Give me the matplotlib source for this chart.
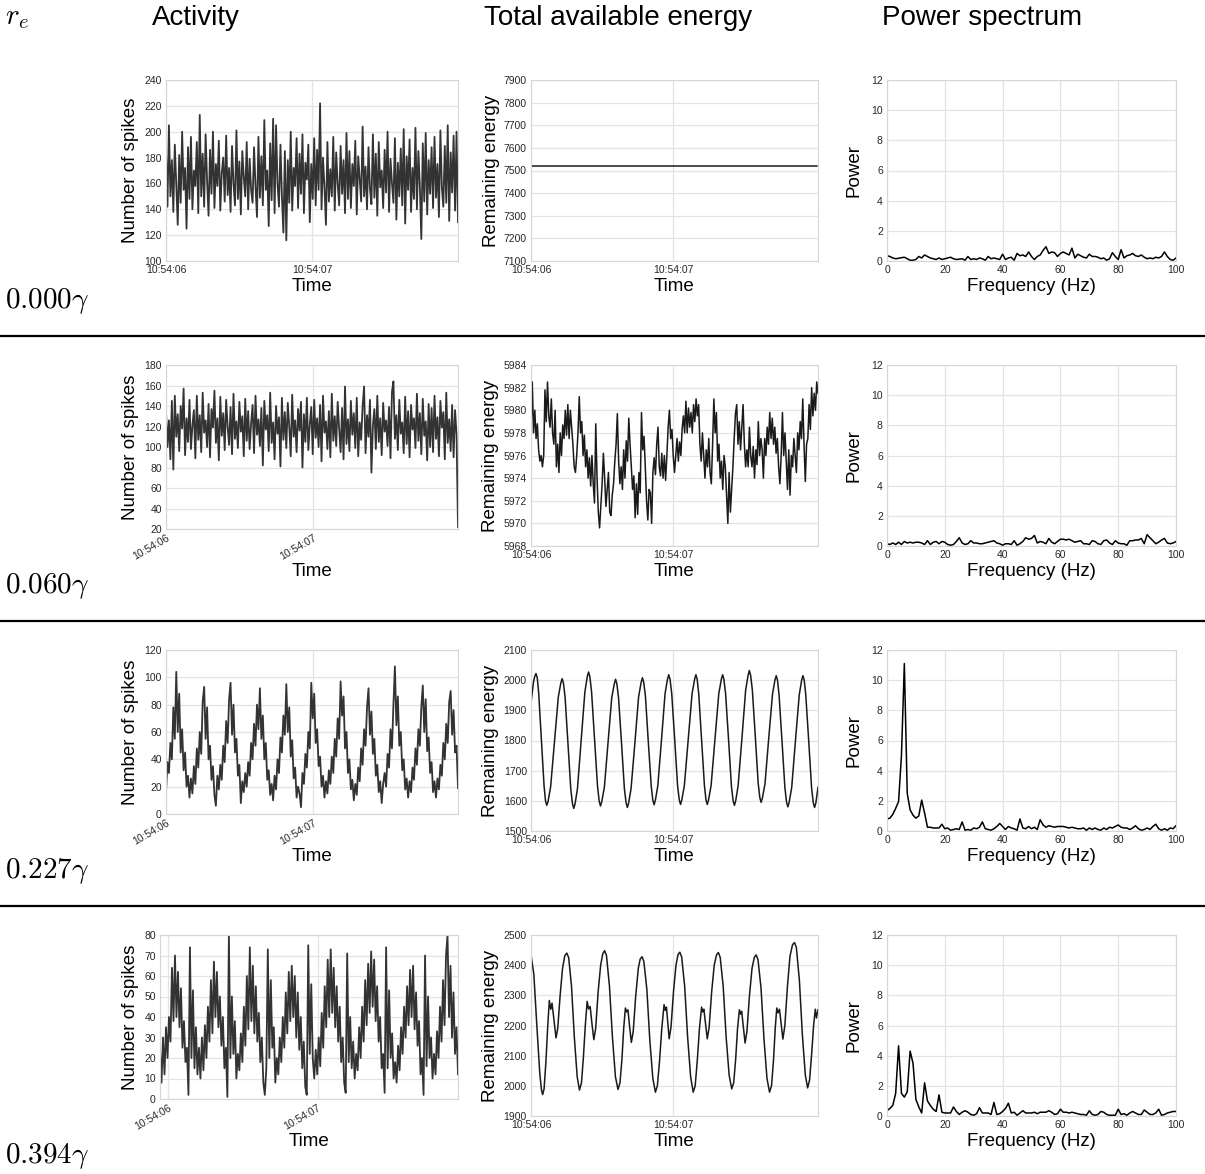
import numpy as np
import matplotlib
matplotlib.use("Agg")
import matplotlib.pyplot as plt
from matplotlib.lines import Line2D

plt.rcParams['font.family'] = ['Liberation Sans', 'DejaVu Sans']
plt.rcParams['mathtext.fontset'] = 'cm'

W, H = 1205, 1174

row_labels = [r'$0.000\gamma$', r'$0.060\gamma$', r'$0.227\gamma$', r'$0.394\gamma$']
col_titles = ['Activity', 'Total available energy', 'Power spectrum']
time_ticks = [0.0, 1.0]
time_tick_labels = ['10:54:06', '10:54:07']

# ---- activity (number of spikes), sampled every ~10 ms
activity_0 = [185, 142, 205, 150, 178, 138, 190, 160, 128, 182, 145, 200, 155, 172, 125, 188, 148, 196, 140, 170,
              158, 192, 137, 213, 150, 183, 142, 198, 162, 135, 186, 152, 200, 141, 175, 158, 193, 139, 168, 180,
              146, 197, 151, 172, 138, 189, 160, 143, 201, 148, 177, 136, 185, 165, 150, 192, 140, 179, 155, 145,
              188, 158, 134, 196, 149, 181, 143, 209, 155, 170, 127, 191, 147, 210, 137, 205, 160, 142, 190, 150,
              122, 185, 116, 178, 145, 200, 139, 172, 158, 195, 141, 183, 152, 198, 137, 176, 163, 190, 130, 175,
              148, 195, 143, 186, 155, 222, 140, 180, 157, 128, 192, 146, 171, 150, 196, 139, 184, 160, 143, 189,
              152, 178, 137, 199, 148, 185, 141, 175, 158, 193, 136, 181, 163, 146, 204, 150, 173, 140, 188, 156,
              144, 198, 149, 183, 135, 192, 157, 170, 141, 186, 153, 200, 138, 179, 160, 145, 195, 132, 176, 150,
              187, 143, 202, 129, 181, 155, 194, 138, 172, 148, 203, 140, 185, 158, 117, 191, 146, 199, 136, 178,
              152, 188, 141, 196, 149, 175, 134, 201, 157, 142, 189, 145, 205, 131, 184, 153, 197, 139, 200, 130]
activity_1 = [135, 100, 126, 88, 145, 78, 150, 110, 132, 96, 140, 118, 157, 92, 128, 105, 146, 98, 121, 136,
              89, 150, 107, 131, 95, 153, 114, 126, 100, 142, 90, 137, 119, 155, 104, 128, 87, 149, 111, 133,
              97, 146, 120, 102, 139, 93, 152, 108, 125, 99, 144, 115, 130, 91, 147, 106, 135, 98, 123, 141,
              94, 150, 112, 127, 101, 138, 82, 145, 117, 131, 96, 153, 104, 124, 88, 140, 113, 129, 81, 148,
              107, 134, 99, 143, 120, 91, 151, 110, 126, 95, 137, 116, 144, 80, 132, 105, 148, 97, 122, 139,
              93, 146, 109, 128, 100, 141, 86, 150, 114, 125, 98, 135, 90, 152, 106, 130, 101, 144, 118, 95,
              138, 88, 159, 103, 127, 96, 145, 112, 133, 99, 148, 91, 124, 107, 140, 159, 94, 131, 110, 146,
              75, 121, 137, 98, 150, 105, 128, 92, 143, 115, 126, 101, 139, 89, 154, 164, 108, 131, 97, 146,
              113, 124, 94, 149, 103, 135, 90, 141, 117, 128, 99, 152, 106, 133, 93, 147, 111, 125, 87, 142,
              100, 138, 95, 150, 108, 129, 91, 145, 119, 134, 88, 153, 104, 127, 96, 141, 90, 136, 112, 22]
activity_2 = [16, 38, 30, 52, 40, 78, 55, 104, 60, 88, 45, 62, 32, 45, 20, 28, 12,
              26, 15, 35, 22, 48, 34, 60, 44, 82, 93, 55, 78, 40, 50, 25, 35, 14, 6,
              28, 18, 36, 25, 50, 38, 68, 52, 84, 96, 58, 80, 45, 55, 28, 36, 8, 24,
              16, 30, 20, 38, 28, 52, 40, 66, 50, 80, 62, 92, 55, 72, 40, 52, 25, 32, 14, 22,
              10, 28, 18, 40, 30, 56, 45, 72, 58, 95, 60, 78, 42, 54, 26, 34, 12, 20,
              15, 5, 30, 22, 44, 34, 60, 48, 96, 70, 88, 52, 62, 35, 42, 20, 28, 12,
              24, 15, 32, 22, 42, 30, 55, 42, 70, 55, 97, 72, 86, 48, 60, 30, 40, 18, 25, 10,
              22, 14, 34, 24, 48, 36, 62, 50, 78, 92, 58, 75, 44, 55, 28, 36, 16, 24, 8,
              22, 30, 20, 44, 34, 62, 48, 80, 108, 65, 86, 50, 60, 32, 40, 18, 26, 12,
              24, 16, 34, 25, 48, 36, 62, 50, 78, 94, 60, 84, 46, 56, 30, 38, 16, 24, 12,
              26, 18, 36, 28, 52, 40, 66, 52, 82, 90, 58, 76, 45, 50, 19]
activity_3 = [24, 8, 30, 12, 35, 20, 40, 28, 64, 38, 70, 40, 62, 35, 54, 25, 38, 18, 25, 2,
              74, 20, 53, 15, 35, 12, 25, 10, 30, 14, 36, 20, 45, 28, 58, 32, 67, 40, 62, 35,
              50, 26, 40, 15, 25, 1, 80, 20, 50, 22, 38, 10, 22, 14, 32, 18, 45, 26, 60, 34,
              74, 38, 65, 32, 55, 28, 42, 18, 30, 8, 2, 15, 73, 20, 58, 25, 35, 8, 20, 12,
              30, 18, 40, 25, 52, 32, 62, 38, 65, 40, 60, 30, 52, 24, 40, 15, 28, 6, 2, 75,
              22, 56, 20, 10, 24, 12, 30, 16, 42, 25, 55, 35, 68, 40, 73, 42, 64, 35, 55, 28,
              45, 18, 30, 8, 3, 71, 18, 40, 15, 28, 10, 22, 14, 35, 20, 45, 28, 58, 36, 66,
              42, 72, 45, 68, 38, 55, 28, 40, 15, 22, 3, 74, 15, 53, 20, 32, 10, 18, 8, 26,
              14, 35, 22, 45, 30, 55, 36, 63, 40, 65, 34, 52, 26, 38, 12, 20, 2, 70, 16, 50,
              20, 30, 10, 22, 12, 33, 20, 45, 28, 58, 36, 70, 80, 40, 65, 30, 52, 22, 35, 12]
activity_series = [activity_0, activity_1, activity_2, activity_3]
activity_spans = [(0.0, 2.0), (0.0, 1.99), (0.0, 1.99), (-0.056, 1.94)]
activity_ylims = [(100, 240, 20), (20, 180, 20), (0, 120, 20), (0, 80, 10)]

# ---- remaining energy
energy_0 = [7520, 7520, 7520]
energy_1 = [5978.3, 5982.5, 5978, 5980, 5977.5, 5978.8, 5976.5, 5975.5, 5976, 5975, 5976, 5981.8, 5979, 5982.5,
            5979.5, 5978.5, 5981, 5978, 5977, 5980, 5975, 5977, 5974.5, 5978, 5976, 5978.7, 5977.5, 5980,
            5977.8, 5980.5, 5977.5, 5980, 5978.5, 5977, 5975, 5974.5, 5976, 5978, 5981.2, 5978, 5979, 5976,
            5977.8, 5975, 5976.5, 5974, 5975.8, 5973.3, 5976, 5973.5, 5971.8, 5978.8, 5974, 5971, 5969.6,
            5971.5, 5973.5, 5976.2, 5974, 5971.5, 5973, 5974.5, 5971, 5970.7, 5972.5, 5973.5, 5975.5, 5977,
            5979.7, 5975.5, 5973.5, 5975, 5973, 5976.5, 5974, 5977.3, 5975.5, 5979.3, 5977, 5975, 5973,
            5974.2, 5970.5, 5973.5, 5970.8, 5974.5, 5972.7, 5979.8, 5976.5, 5977.7, 5975, 5972, 5970.3, 5973,
            5972.7, 5970, 5974.5, 5975.8, 5974.3, 5977, 5978.5, 5975, 5974.2, 5976.2, 5974, 5976, 5973.8,
            5976, 5978.5, 5980, 5977.5, 5978.3, 5976, 5974.5, 5976, 5977.5, 5975.5, 5977.2, 5976, 5978.3,
            5979.5, 5978, 5980.8, 5978, 5980.2, 5978.5, 5979.8, 5978, 5980.5, 5979, 5981, 5979.5, 5980.5,
            5977, 5975.5, 5978, 5976, 5974, 5976.5, 5975, 5977.5, 5974.5, 5973.5, 5977, 5981, 5978, 5979.8,
            5975.5, 5977, 5974, 5975.5, 5973, 5976, 5975, 5972.5, 5970, 5974.5, 5971, 5973, 5975, 5977.5,
            5979.7, 5980.5, 5977, 5979, 5976.5, 5978.5, 5980.5, 5977, 5975, 5976.5, 5975, 5978.5, 5976,
            5975, 5976.8, 5974, 5976.5, 5975.2, 5979, 5976, 5977.5, 5976.5, 5974, 5977.5, 5976, 5978.5,
            5977, 5979.8, 5977.5, 5979.3, 5977, 5978.5, 5976.2, 5977.5, 5975, 5973.5, 5976, 5979.8, 5976,
            5978, 5975.5, 5973, 5976.5, 5972.5, 5976, 5975, 5977.5, 5976, 5974.5, 5978, 5976.5, 5979,
            5977.5, 5981, 5977, 5973.7, 5977, 5977.5, 5980.5, 5978.3, 5982, 5979.5, 5981.5, 5980, 5982.5,
            5981.5]
energy_2_t = [0.000, 0.018, 0.026, 0.035, 0.044, 0.054, 0.073, 0.092, 0.102, 0.111, 0.120, 0.138, 0.165, 0.192,
              0.210, 0.219, 0.228, 0.240, 0.260, 0.280, 0.292, 0.301, 0.310, 0.327, 0.353, 0.379, 0.396, 0.405,
              0.414, 0.426, 0.447, 0.468, 0.480, 0.489, 0.498, 0.516, 0.542, 0.568, 0.586, 0.595, 0.604, 0.616,
              0.637, 0.657, 0.669, 0.678, 0.687, 0.704, 0.731, 0.757, 0.775, 0.784, 0.793, 0.805, 0.825, 0.846,
              0.857, 0.866, 0.875, 0.892, 0.918, 0.943, 0.960, 0.969, 0.978, 0.990, 1.011, 1.031, 1.043, 1.052,
              1.061, 1.079, 1.106, 1.133, 1.151, 1.160, 1.169, 1.180, 1.200, 1.220, 1.231, 1.240, 1.249, 1.267,
              1.294, 1.321, 1.339, 1.348, 1.357, 1.369, 1.390, 1.410, 1.422, 1.431, 1.440, 1.457, 1.484, 1.510,
              1.527, 1.536, 1.545, 1.557, 1.578, 1.598, 1.610, 1.619, 1.628, 1.646, 1.672, 1.699, 1.716, 1.725,
              1.734, 1.745, 1.766, 1.786, 1.798, 1.807, 1.816, 1.834, 1.860, 1.887, 1.904, 1.913, 1.922, 1.933,
              1.954, 1.974, 1.986, 1.995, 2.004, 2.019]
energy_2_v = [1925, 1995, 2012, 2022, 2008, 1958, 1803, 1649, 1600, 1585, 1598, 1646, 1795, 1944,
              1991, 2005, 1991, 1942, 1790, 1638, 1590, 1575, 1590, 1641, 1801, 1961, 2012, 2027,
              2012, 1962, 1805, 1648, 1598, 1583, 1598, 1644, 1793, 1942, 1988, 2003, 1988, 1941,
              1790, 1640, 1593, 1578, 1593, 1641, 1793, 1945, 1993, 2008, 1993, 1947, 1797, 1648,
              1602, 1587, 1602, 1650, 1802, 1955, 2003, 2018, 2003, 1955, 1803, 1651, 1603, 1588,
              1603, 1651, 1803, 1955, 2003, 2018, 2003, 1955, 1803, 1651, 1603, 1588, 1603, 1651,
              1803, 1955, 2003, 2018, 2003, 1955, 1801, 1648, 1600, 1585, 1600, 1650, 1808, 1967,
              2016, 2032, 2016, 1968, 1813, 1659, 1610, 1595, 1610, 1656, 1805, 1954, 2000, 2015,
              2000, 1951, 1797, 1644, 1595, 1580, 1595, 1644, 1797, 1951, 2000, 2015, 2000, 1951,
              1796, 1642, 1593, 1578, 1593, 1645]
energy_3_t = [0.000, 0.020, 0.041, 0.062, 0.074, 0.082, 0.092, 0.105, 0.118, 0.129, 0.139, 0.148, 0.162, 0.176,
              0.188, 0.205, 0.222, 0.238, 0.252, 0.265, 0.285, 0.305, 0.325, 0.341, 0.355, 0.368, 0.382, 0.395,
              0.405, 0.416, 0.429, 0.442, 0.455, 0.472, 0.490, 0.505, 0.518, 0.531, 0.552, 0.573, 0.594, 0.612,
              0.626, 0.640, 0.652, 0.664, 0.673, 0.682, 0.694, 0.706, 0.719, 0.737, 0.755, 0.768, 0.781, 0.794,
              0.815, 0.836, 0.857, 0.875, 0.889, 0.904, 0.920, 0.936, 0.945, 0.953, 0.962, 0.972, 0.985, 1.003,
              1.020, 1.034, 1.047, 1.060, 1.081, 1.102, 1.123, 1.141, 1.155, 1.170, 1.185, 1.200, 1.208, 1.216,
              1.228, 1.240, 1.253, 1.271, 1.289, 1.305, 1.318, 1.331, 1.352, 1.373, 1.394, 1.412, 1.426, 1.440,
              1.453, 1.466, 1.474, 1.482, 1.494, 1.506, 1.519, 1.537, 1.555, 1.571, 1.584, 1.597, 1.618, 1.639,
              1.660, 1.678, 1.692, 1.706, 1.718, 1.729, 1.738, 1.748, 1.760, 1.772, 1.786, 1.804, 1.822, 1.840,
              1.854, 1.867, 1.888, 1.909, 1.930, 1.946, 1.960, 1.975, 1.988, 2.000, 2.008, 2.019]
energy_3_v = [2434, 2370, 2200, 2040, 1985, 1971, 1990, 2080, 2200, 2283, 2254, 2274, 2215, 2159,
              2190, 2300, 2390, 2432, 2440, 2425, 2330, 2160, 2030, 1986, 2010, 2090, 2200, 2280,
              2255, 2263, 2205, 2153, 2190, 2310, 2400, 2438, 2448, 2432, 2330, 2160, 2030, 1988,
              2010, 2090, 2190, 2258, 2245, 2252, 2195, 2144, 2180, 2300, 2390, 2420, 2428, 2412,
              2320, 2150, 2025, 1979, 2000, 2080, 2190, 2269, 2250, 2261, 2210, 2156, 2195, 2315,
              2400, 2435, 2443, 2427, 2330, 2160, 2030, 1979, 2000, 2085, 2190, 2261, 2245, 2254,
              2205, 2156, 2193, 2312, 2400, 2434, 2442, 2426, 2330, 2160, 2035, 1990, 2010, 2090,
              2190, 2252, 2238, 2247, 2195, 2142, 2180, 2300, 2390, 2426, 2434, 2418, 2325, 2155,
              2025, 1979, 2000, 2085, 2190, 2258, 2242, 2254, 2205, 2155, 2200, 2330, 2430, 2468,
              2475, 2458, 2350, 2170, 2035, 1993, 2020, 2110, 2200, 2254, 2225, 2252]
energy_ylims = [(7100, 7900, 100), (5968, 5984, 2), (1500, 2100, 100), (1900, 2500, 100)]

# ---- power spectra, 0..100 Hz at 1 Hz
freqs = np.arange(101)
power_0 = [0.35, 0.3, 0.2, 0.15, 0.18, 0.22, 0.25, 0.15, 0.05, 0.05, 0.1, 0.3, 0.2, 0.4, 0.3, 0.2, 0.15, 0.1, 0.2, 0.1,
           0.15, 0.2, 0.25, 0.15, 0.1, 0.12, 0.15, 0.05, 0.3, 0.1, 0.15, 0.1, 0.2, 0.15, 0.05, 0.3, 0.15, 0.2, 0.15, 0.1,
           0.45, 0.1, 0.2, 0.25, 0.05, 0.5, 0.35, 0.4, 0.3, 0.6, 0.3, 0.1, 0.3, 0.4, 0.7, 0.95, 0.5, 0.6, 0.55, 0.3,
           0.5, 0.6, 0.5, 0.4, 0.85, 0.2, 0.45, 0.35, 0.25, 0.2, 0.45, 0.3, 0.3, 0.25, 0.15, 0.2, 0.05, 0.15, 0.55, 0.3,
           0.1, 0.75, 0.2, 0.35, 0.4, 0.5, 0.35, 0.3, 0.4, 0.25, 0.15, 0.2, 0.15, 0.25, 0.2, 0.3, 0.6, 0.3, 0.1, 0.05,
           0.2]
power_1 = [0.15, 0.1, 0.2, 0.1, 0.25, 0.1, 0.3, 0.2, 0.25, 0.2, 0.25, 0.25, 0.2, 0.1, 0.35, 0.1, 0.25, 0.3, 0.15, 0.3,
           0.25, 0.1, 0.05, 0.1, 0.3, 0.55, 0.2, 0.1, 0.15, 0.35, 0.2, 0.2, 0.15, 0.15, 0.2, 0.25, 0.3, 0.35, 0.2, 0.15,
           0.05, 0.15, 0.15, 0.1, 0.35, 0.05, 0.15, 0.3, 0.55, 0.45, 0.5, 0.7, 0.2, 0.3, 0.25, 0.15, 0.5, 0.25, 0.15, 0.3,
           0.45, 0.45, 0.4, 0.45, 0.35, 0.25, 0.3, 0.35, 0.15, 0.15, 0.1, 0.35, 0.3, 0.15, 0.1, 0.35, 0.4, 0.2, 0.1, 0.35,
           0.2, 0.15, 0.15, 0.05, 0.35, 0.35, 0.4, 0.4, 0.5, 0.15, 0.75, 0.55, 0.35, 0.15, 0.25, 0.4, 0.5, 0.2, 0.15, 0.2,
           0.3]
power_2 = [0.8, 0.85, 1.1, 1.5, 1.95, 5.0, 11.1, 2.5, 1.4, 1.05, 0.85, 1.0, 2.05, 1.2, 0.25, 0.25, 0.2, 0.2, 0.2, 0.45,
           0.15, 0.2, 0.05, 0.1, 0.15, 0.1, 0.6, 0.05, 0.1, 0.05, 0.2, 0.15, 0.25, 0.6, 0.15, 0.1, 0.05, 0.15, 0.3, 0.5,
           0.3, 0.1, 0.3, 0.2, 0.15, 0.05, 0.8, 0.2, 0.15, 0.3, 0.15, 0.25, 0.1, 0.75, 0.4, 0.25, 0.35, 0.3, 0.25, 0.3,
           0.3, 0.3, 0.25, 0.2, 0.25, 0.2, 0.15, 0.15, 0.2, 0.05, 0.2, 0.1, 0.2, 0.1, 0.05, 0.2, 0.1, 0.25, 0.2, 0.3,
           0.4, 0.25, 0.2, 0.2, 0.1, 0.2, 0.35, 0.15, 0.05, 0.1, 0.2, 0.1, 0.3, 0.45, 0.15, 0.05, 0.15, 0.05, 0.2, 0.15,
           0.35]
power_3 = [0.35, 0.5, 0.7, 1.5, 4.65, 1.5, 1.25, 1.6, 4.3, 3.5, 1.1, 0.6, 0.2, 2.2, 1.0, 0.7, 0.45, 0.3, 1.4, 0.25,
           0.2, 0.2, 0.2, 0.6, 0.3, 0.1, 0.25, 0.35, 0.25, 0.1, 0.05, 0.15, 0.55, 0.2, 0.2, 0.2, 0.1, 0.9, 0.1, 0.15,
           0.3, 0.5, 0.85, 0.2, 0.25, 0.05, 0.2, 0.35, 0.2, 0.2, 0.2, 0.25, 0.15, 0.25, 0.25, 0.25, 0.35, 0.25, 0.1, 0.15,
           0.45, 0.25, 0.25, 0.2, 0.25, 0.2, 0.15, 0.1, 0.1, 0.05, 0.35, 0.1, 0.05, 0.1, 0.3, 0.25, 0.1, 0.05, 0.05, 0.05,
           0.45, 0.1, 0.15, 0.05, 0.2, 0.3, 0.2, 0.1, 0.1, 0.4, 0.25, 0.1, 0.1, 0.2, 0.45, 0.05, 0.1, 0.2, 0.25, 0.3,
           0.3]
power_series = [power_0, power_1, power_2, power_3]


fig = plt.figure(figsize=(W / 100, H / 100), dpi=100)


def px_axes(left, top, right, bottom):
    return fig.add_axes([left / W, 1 - bottom / H, (right - left) / W, (bottom - top) / H])


def style(ax, top, bottom, label_top):
    ax.grid(True, color='#e4e4e4', lw=0.9)
    ax.set_axisbelow(True)
    for s in ax.spines.values():
        s.set_color('#d6d6d6')
        s.set_linewidth(0.8)
    ax.tick_params(length=0, labelsize=7.5, colors='#262626', pad=3)
    ax.xaxis.set_label_coords(0.5, -(label_top - bottom) / (bottom - top))


row_step = 285
for r in range(4):
    off = r * row_step
    label_top = 278 + off

    # activity
    act_top = 80 + off
    act_bot = 261 if r == 0 else 529 + (r - 1) * row_step
    act_left = 160 if r == 3 else 166
    ax = px_axes(act_left, act_top, 458, act_bot)
    t0, t1 = activity_spans[r]
    vals = activity_series[r]
    ax.plot(np.linspace(t0, t1, len(vals)), vals, color='#333333', lw=1.3)
    ax.set_xlim(t0, t1)
    lo, hi, st = activity_ylims[r]
    ax.set_ylim(lo, hi)
    ax.set_yticks(np.arange(lo, hi + st / 2, st))
    ax.set_xticks(time_ticks)
    if r == 0:
        ax.set_xticklabels(time_tick_labels)
    else:
        ax.set_xticklabels(time_tick_labels, rotation=30, ha='right', rotation_mode='anchor')
    ax.set_xlabel('Time', fontsize=13.5)
    ax.set_ylabel('Number of spikes', fontsize=13.5, labelpad=4)
    style(ax, act_top, act_bot, label_top)

    # energy
    en_top, en_bot = 80 + off, 261 + off
    ax = px_axes(531, en_top, 818, en_bot)
    if r == 0:
        ax.plot(np.linspace(0, 2.01, len(energy_0)), energy_0, color='#1a1a1a', lw=1.1)
    elif r == 1:
        ax.plot(np.linspace(0, 2.019, len(energy_1)), energy_1, color='#1a1a1a', lw=1.1)
    elif r == 2:
        ax.plot(energy_2_t, energy_2_v, color='#1a1a1a', lw=1.1)
    else:
        ax.plot(energy_3_t, energy_3_v, color='#1a1a1a', lw=1.1)
    ax.set_xlim(0, 2.019)
    lo, hi, st = energy_ylims[r]
    ax.set_ylim(lo, hi)
    ax.set_yticks(np.arange(lo, hi + st / 2, st))
    ax.set_xticks(time_ticks)
    ax.set_xticklabels(time_tick_labels)
    ax.set_xlabel('Time', fontsize=13.5)
    ax.set_ylabel('Remaining energy', fontsize=13.5, labelpad=3)
    style(ax, en_top, en_bot, label_top)

    # power spectrum
    ax = px_axes(887, en_top, 1176, en_bot)
    ax.plot(freqs, power_series[r], color='black', lw=1.1)
    ax.set_xlim(0, 100)
    ax.set_ylim(0, 12)
    ax.set_xticks(np.arange(0, 101, 20))
    ax.set_yticks(np.arange(0, 13, 2))
    ax.set_xlabel('Frequency (Hz)', fontsize=13.5)
    ax.set_ylabel('Power', fontsize=13.5, labelpad=6)
    style(ax, en_top, en_bot, label_top)

    # row label and separator
    fig.text(5 / W, 1 - (308 + off) / H, row_labels[r], fontsize=21, va='baseline', ha='left')
    if r < 3:
        y = 1 - (336 + off) / H
        fig.add_artist(Line2D([0, 1], [y, y], color='black', lw=1.6, transform=fig.transFigure))

fig.text(5 / W, 1 - 24 / H, r'$r_e$', fontsize=21, va='baseline', ha='left')
for x, title in zip([152, 484, 882], col_titles):
    fig.text(x / W, 1 - 25 / H, title, fontsize=20, va='baseline', ha='left')

fig.savefig('out.png', dpi=100)
